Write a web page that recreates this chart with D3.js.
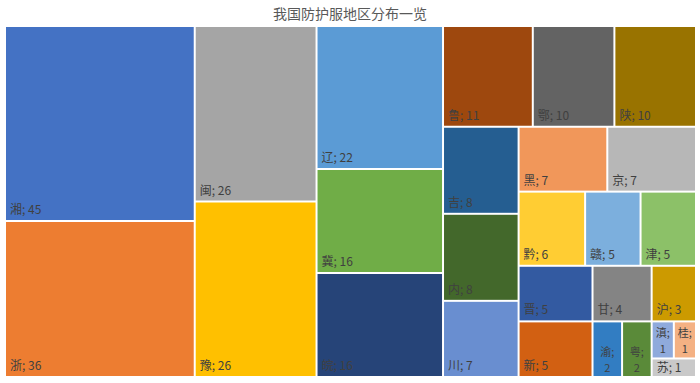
<!DOCTYPE html>
<html><head><meta charset="utf-8">
<script src="https://cdn.jsdelivr.net/npm/d3@7"></script>
<style>body{margin:0;background:#fff}svg{display:block}</style>
</head><body>
<svg id="chart" width="700" height="383"></svg>
<script>
const title = "我国防护服地区分布一览";
const provinces = ["湘","浙","闽","豫","辽","冀","皖","鲁","鄂","陕","吉","内","川","黑","京","黔","赣","津","晋","新","甘","沪","渝","粤","滇","桂","苏"];
const counts    = [45,36,26,26,22,16,16,11,10,10,8,8,7,7,7,6,5,5,5,5,4,3,2,2,1,1,1];
const palette   = ["#4472C4","#ED7D31","#A5A5A5","#FFC000","#5B9BD5","#70AD47","#264478","#9E480E","#636363","#997300","#255E91","#43682B","#698ED0","#F1975A","#B7B7B7","#FFCD33","#7CAFDD","#8CC168","#335AA1","#D26012","#848484","#CC9A00","#327DC2","#5A8A39","#8FAADC","#F4B183","#C9C9C9"];
// grouping of blocks as arranged in the reference (structure only)
const layoutGroups = [
  ["湘","浙"],
  ["闽","豫"],
  ["辽","冀","皖"],
  [
    ["鲁","鄂","陕"],
    [
      ["吉","内","川"],
      [
        ["黑","京"],
        ["黔","赣","津"],
        ["晋","甘","沪"],
        ["新","渝","粤",[["滇","桂"],"苏"]]
      ]
    ]
  ]
];

const svg = d3.select("#chart");
const W = 700, H = 383;
const plot = {x: 6, y: 27, w: 689, h: 349};

svg.append("rect").attr("width", W).attr("height", H).attr("fill", "#fff");
svg.append("text").attr("x", 350).attr("y", 19).attr("text-anchor", "middle")
  .attr("font-family", "'Microsoft YaHei','Noto Sans CJK SC',sans-serif")
  .attr("font-size", 14).attr("fill", "#595959").text(title);

function build(n) {
  if (typeof n === "string") {
    const i = provinces.indexOf(n);
    return {name: n, value: counts[i], color: palette[i]};
  }
  return {children: n.map(build)};
}
const root = d3.hierarchy(build(layoutGroups)).sum(d => d.value || 0);
d3.treemap().tile(d3.treemapSliceDice).size([plot.w, plot.h]).paddingInner(2)(root);

const g = svg.append("g").attr("transform", `translate(${plot.x},${plot.y})`);
const leaves = root.leaves();
const cell = g.selectAll("g.cell").data(leaves).join("g").attr("class", "cell")
  .attr("transform", d => `translate(${d.x0},${d.y0})`);
cell.append("rect")
  .attr("width", d => d.x1 - d.x0).attr("height", d => d.y1 - d.y0)
  .attr("fill", d => d.data.color);

const fontFam = "'Microsoft YaHei','Noto Sans CJK SC',sans-serif";
cell.each(function(d) {
  const w = d.x1 - d.x0, h = d.y1 - d.y0;
  const full = `${d.data.name}; ${d.data.value}`;
  const t = d3.select(this).append("text")
    .attr("font-family", fontFam).attr("font-size", 12).attr("fill", "#404040");
  t.text(full).attr("x", 4).attr("y", h < 24 ? h - 4 : h - 6);
  const tw = t.node().getComputedTextLength();
  if (tw > w - 6) {
    t.text(null).attr("font-size", 11);
    const cx = w / 2;
    t.attr("text-anchor", "middle");
    t.append("tspan").attr("x", cx).attr("y", h - 20).text(`${d.data.name};`);
    t.append("tspan").attr("x", cx).attr("y", h - 4).text(`${d.data.value}`);
  }
});
</script>
</body></html>
